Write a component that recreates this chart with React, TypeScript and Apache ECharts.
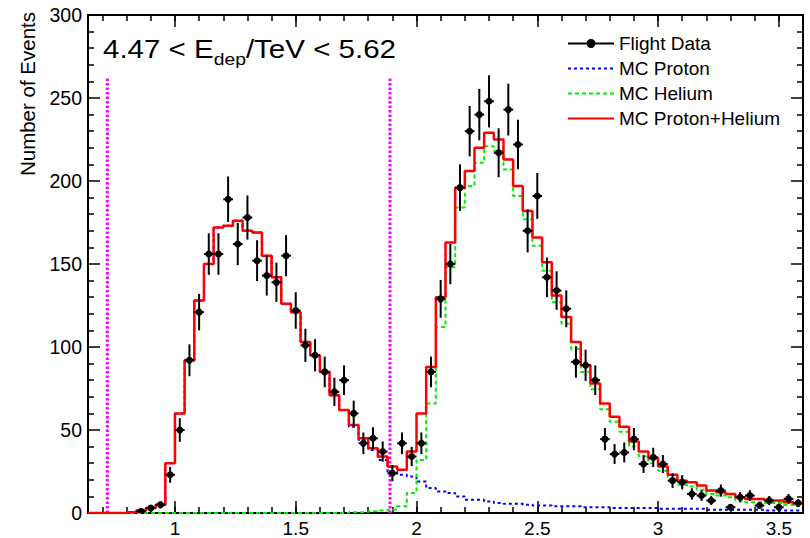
import React, { useEffect, useRef } from "react";
import * as echarts from "echarts";

// ---- axis / binning definitions ----
const X_MIN = 0.64;
const X_MAX = 3.6;
const HALF_BIN = 0.02;
const Y_MIN = 0;
const Y_MAX = 300;

const binCenters = [
  0.66, 0.70, 0.74, 0.78, 0.82, 0.86, 0.90, 0.94, 0.98, 1.02,
  1.06, 1.10, 1.14, 1.18, 1.22, 1.26, 1.30, 1.34, 1.38, 1.42,
  1.46, 1.50, 1.54, 1.58, 1.62, 1.66, 1.70, 1.74, 1.78, 1.82,
  1.86, 1.90, 1.94, 1.98, 2.02, 2.06, 2.10, 2.14, 2.18, 2.22,
  2.26, 2.30, 2.34, 2.38, 2.42, 2.46, 2.50, 2.54, 2.58, 2.62,
  2.66, 2.70, 2.74, 2.78, 2.82, 2.86, 2.90, 2.94, 2.98, 3.02,
  3.06, 3.10, 3.14, 3.18, 3.22, 3.26, 3.30, 3.34, 3.38, 3.42,
  3.46, 3.50, 3.54, 3.58,
];

// ---- series values (per bin) ----
const mcTotal = [
  0, 0, 0, 0, 0.5, 1.5, 3, 5, 30, 60,
  92, 128, 150, 172, 173, 176, 170, 169, 155, 142,
  126, 121, 103, 95, 85, 71, 62, 53, 45, 39,
  34, 28, 26, 37, 60, 88, 130, 163, 196, 206,
  220, 229, 225, 213, 197, 182, 166, 151, 131, 118,
  103, 89, 78, 66, 58, 52, 43, 37, 33, 28,
  23, 19.5, 18.5, 16.5, 13.5, 12.5, 11.5, 9.5, 8.5, 8.5,
  7.5, 7.5, 6.5, 5.5,
];

const mcProton = [
  0, 0, 0, 0, 0.5, 1.5, 3, 5, 30, 60,
  92, 128, 150, 172, 173, 176, 170, 169, 155, 142,
  126, 121, 103, 95, 85, 71, 62, 52, 44, 38,
  32, 25, 23, 22, 19, 15, 13, 12, 10, 8,
  8, 7, 6, 5.5, 5.5, 5, 4.5, 4.5, 4, 4,
  4, 3.5, 3.5, 3.5, 3, 3, 3, 3, 3, 2.5,
  2.5, 2.5, 2.5, 2.5, 2, 2, 2, 2, 2, 2,
  1.5, 1.5, 1.5, 1.5,
];

const mcHelium = [
  0, 0, 0, 0, 0, 0, 0, 0, 0, 0,
  0, 0, 0, 0, 0, 0, 0, 0, 0, 0,
  0, 0, 0, 0, 0, 0, 0, 0.5, 0.5, 1,
  1.5, 2, 4, 12, 32, 66, 112, 148, 184, 197,
  211, 221, 218, 207, 191, 177, 161, 146, 127, 114,
  99, 85, 74.5, 62.5, 55, 49, 40, 34, 30, 25.5,
  20.5, 17, 16, 14, 11.5, 10.5, 9.5, 7.5, 6.5, 6.5,
  6, 6, 5, 4,
];

const flightData = [
  null, null, null, null, null, 1, 3, 5, 23, 50,
  92, 121, 156, 156, 189, 162, 178, 152, 143, 139,
  155, 122, 101, 95, 85, 73, 80, 60, 42, 45,
  37, 24, 42, 34, 42, 85, 129, 150, 196, 230,
  240, 248, 217, 243, 222, 170, 191, 142, 134, 123,
  91, 89, 80, 44.5, 35.5, 36.5, 44.5, 29.5, 33.5, 29.5,
  19.5, 18.5, 11.5, 10.5, 7.5, 13.5, 3.5, 9.5, 10.5, 4.5,
  7.5, 3.5, 8.5, 6,
];

const flightErr = [
  null, null, null, null, null, 1, 1.7, 2.2, 4.8, 7.1,
  9.6, 11, 12.5, 12.5, 13.7, 12.7, 13.3, 12.3, 12, 11.8,
  12.4, 11, 10, 9.7, 9.2, 8.5, 8.9, 7.7, 6.5, 6.7,
  6.1, 4.9, 6.5, 5.8, 6.5, 9.2, 11.4, 12.2, 14, 15.2,
  15.5, 15.7, 14.7, 15.6, 14.9, 13, 13.8, 11.9, 11.6, 11.1,
  9.5, 9.4, 8.9, 6.7, 6, 6, 6.7, 5.4, 5.8, 5.4,
  4.4, 4.3, 3.4, 3.2, 2.7, 3.7, 1.9, 3.1, 3.2, 2.1,
  2.7, 1.9, 2.9, 2.4,
];

// cut lines (x position, top value)
const cutPositions = [0.72, 1.89];
const cutTop = 262;

// ---- tick labels ----
const xMajorTicks = [1, 1.5, 2, 2.5, 3, 3.5];
const xMinorTicks = [
  0.7, 0.8, 0.9, 1.0, 1.1, 1.2, 1.3, 1.4, 1.5, 1.6, 1.7, 1.8, 1.9, 2.0,
  2.1, 2.2, 2.3, 2.4, 2.5, 2.6, 2.7, 2.8, 2.9, 3.0, 3.1, 3.2, 3.3, 3.4, 3.5,
];
const yInterval = 50;

const legendNames = ["Flight Data", "MC Proton", "MC Helium", "MC Proton+Helium"];
const titleParts = ["4.47 < E", "dep", "/TeV < 5.62"];
const yTitle = "Number of Events";

const FONT = "'Liberation Sans', Arial, Helvetica, sans-serif";

function histPoints(values: number[]) {
  const pts: number[][] = binCenters.map((c, i) => [c - HALF_BIN, values[i]]);
  const n = binCenters.length;
  pts.push([binCenters[n - 1] + HALF_BIN, values[n - 1]]);
  return pts;
}

function measure(text: string, size: number) {
  const ctx = document.createElement("canvas").getContext("2d");
  if (!ctx) return text.length * size * 0.55;
  ctx.font = `${size}px ${FONT}`;
  return ctx.measureText(text).width;
}

export default function App() {
  const ref = useRef<HTMLDivElement>(null);

  useEffect(() => {
    if (!ref.current) return;
    const chart = echarts.init(ref.current, undefined, { renderer: "svg" });

    const tickStyle = { color: "#000", width: 1.5 };
    const xBase: any = {
      type: "value",
      min: X_MIN,
      max: X_MAX,
      splitLine: { show: false },
      axisLine: { show: false, onZero: false },
    };
    const yBase: any = {
      type: "value",
      min: Y_MIN,
      max: Y_MAX,
      interval: yInterval,
      splitLine: { show: false },
      axisLine: { show: false, onZero: false },
    };

    const errData = binCenters
      .map((c, i) => (flightData[i] == null ? null : [c, flightData[i], flightErr[i]]))
      .filter((d) => d !== null);

    // title composition
    const mainSize = 26;
    const subSize = 17;
    const w1 = measure(titleParts[0], mainSize);
    const w2 = measure(titleParts[1], subSize);
    const w3 = measure(titleParts[2], mainSize);
    const totalW = w1 + w2 + w3;
    const titleScale = 293 / totalW;

    const legendIcon = "path://M0,3h46v2H0z M18.5,4a4.5,4.5 0 1,1 9,0a4.5,4.5 0 1,1 -9,0z";
    const hidden = "rgba(0,0,0,0)";

    const option: any = {
      animation: false,
      backgroundColor: "#fff",
      grid: {
        left: 88,
        top: 15,
        width: 715,
        height: 499,
        show: true,
        borderColor: "#000",
        borderWidth: 2,
        backgroundColor: "transparent",
      },
      legend: {
        orient: "vertical",
        left: 562,
        top: 29,
        itemWidth: 46,
        itemHeight: 9,
        itemGap: 6,
        textStyle: { fontSize: 19, color: "#000", fontFamily: FONT, lineHeight: 19 },
        data: [
          { name: legendNames[0], icon: legendIcon },
          legendNames[1],
          legendNames[2],
          legendNames[3],
        ],
      },
      xAxis: [
        {
          ...xBase,
          position: "bottom",
          axisTick: { show: true, inside: true, length: 12, customValues: xMajorTicks, lineStyle: tickStyle },
          axisLabel: {
            show: true,
            customValues: xMajorTicks,
            fontSize: 19,
            color: "#000",
            fontFamily: FONT,
            margin: 6,
          },
        },
        {
          ...xBase,
          position: "bottom",
          axisTick: { show: true, inside: true, length: 6, customValues: xMinorTicks, lineStyle: tickStyle },
          axisLabel: { show: false },
        },
        {
          ...xBase,
          position: "top",
          axisTick: { show: true, inside: true, length: 12, customValues: xMajorTicks, lineStyle: tickStyle },
          axisLabel: { show: false },
        },
        {
          ...xBase,
          position: "top",
          axisTick: { show: true, inside: true, length: 6, customValues: xMinorTicks, lineStyle: tickStyle },
          axisLabel: { show: false },
        },
      ],
      yAxis: [
        {
          ...yBase,
          position: "left",
          axisTick: { show: true, inside: true, length: 12, lineStyle: tickStyle },
          minorTick: { show: true, splitNumber: 5, length: 6, lineStyle: tickStyle },
          axisLabel: { fontSize: 19.5, color: "#000", fontFamily: FONT, margin: 6 },
        },
        {
          ...yBase,
          position: "right",
          axisTick: { show: true, inside: true, length: 12, lineStyle: tickStyle },
          minorTick: { show: true, splitNumber: 5, length: 6, lineStyle: tickStyle },
          axisLabel: { show: false },
        },
      ],
      graphic: [
        {
          type: "group",
          x: 103,
          y: 49,
          scaleX: titleScale,
          children: [
            {
              type: "text",
              x: 0,
              y: 0,
              style: {
                text: titleParts[0],
                fontSize: mainSize,
                fontFamily: FONT,
                fill: "#000",
                align: "left",
                verticalAlign: "middle",
              },
            },
            {
              type: "text",
              x: w1,
              y: 10,
              style: {
                text: titleParts[1],
                fontSize: subSize,
                fontFamily: FONT,
                fill: "#000",
                align: "left",
                verticalAlign: "middle",
              },
            },
            {
              type: "text",
              x: w1 + w2,
              y: 0,
              style: {
                text: titleParts[2],
                fontSize: mainSize,
                fontFamily: FONT,
                fill: "#000",
                align: "left",
                verticalAlign: "middle",
              },
            },
          ],
        },
        {
          type: "text",
          x: 27,
          y: 12,
          rotation: Math.PI / 2,
          style: {
            text: yTitle,
            fontSize: 20.5,
            fontFamily: FONT,
            fill: "#000",
            align: "right",
            verticalAlign: "middle",
          },
        },
      ],
      series: [
        ...cutPositions.map((x, i) => ({
          name: "cut" + i,
          type: "line",
          xAxisIndex: 0,
          yAxisIndex: 0,
          data: [
            [x, 0],
            [x, cutTop],
          ],
          symbol: "none",
          silent: true,
          z: 1,
          lineStyle: { color: "#ff00ff", width: 3, type: [2.5, 2] },
        })),
        {
          name: legendNames[1],
          type: "line",
          step: "end",
          data: histPoints(mcProton),
          symbol: "none",
          z: 2,
          itemStyle: { color: hidden },
          lineStyle: { color: "#0000ff", width: 2, type: [3, 3] },
        },
        {
          name: legendNames[2],
          type: "line",
          step: "end",
          data: histPoints(mcHelium),
          symbol: "none",
          z: 3,
          itemStyle: { color: hidden },
          lineStyle: { color: "#00ee00", width: 2, type: [4, 3] },
        },
        {
          name: legendNames[3],
          type: "line",
          step: "end",
          data: histPoints(mcTotal),
          symbol: "none",
          z: 4,
          itemStyle: { color: hidden },
          lineStyle: { color: "#ff0000", width: 2.5 },
        },
        {
          name: legendNames[0],
          type: "custom",
          z: 5,
          clip: true,
          itemStyle: { color: "#000" },
          encode: { x: 0, y: 1 },
          data: errData,
          renderItem: (params: any, api: any) => {
            const x = api.value(0);
            const y = api.value(1);
            const e = api.value(2);
            const c = api.coord([x, y]);
            const t = api.coord([x, y + e]);
            const b = api.coord([x, Math.max(0, y - e)]);
            const l = api.coord([x - HALF_BIN, y]);
            const r = api.coord([x + HALF_BIN, y]);
            return {
              type: "group",
              children: [
                { type: "line", shape: { x1: c[0], y1: t[1], x2: c[0], y2: b[1] }, style: { stroke: "#000", lineWidth: 2 } },
                { type: "line", shape: { x1: l[0], y1: c[1], x2: r[0], y2: c[1] }, style: { stroke: "#000", lineWidth: 2 } },
                { type: "circle", shape: { cx: c[0], cy: c[1], r: 3.5 }, style: { fill: "#000" } },
              ],
            };
          },
        },
      ],
    };

    chart.setOption(option);
    return () => chart.dispose();
  }, []);

  return (
    <div
      ref={ref}
      style={{ position: "absolute", left: 0, top: 0, width: 810, height: 538, background: "#fff" }}
    />
  );
}
